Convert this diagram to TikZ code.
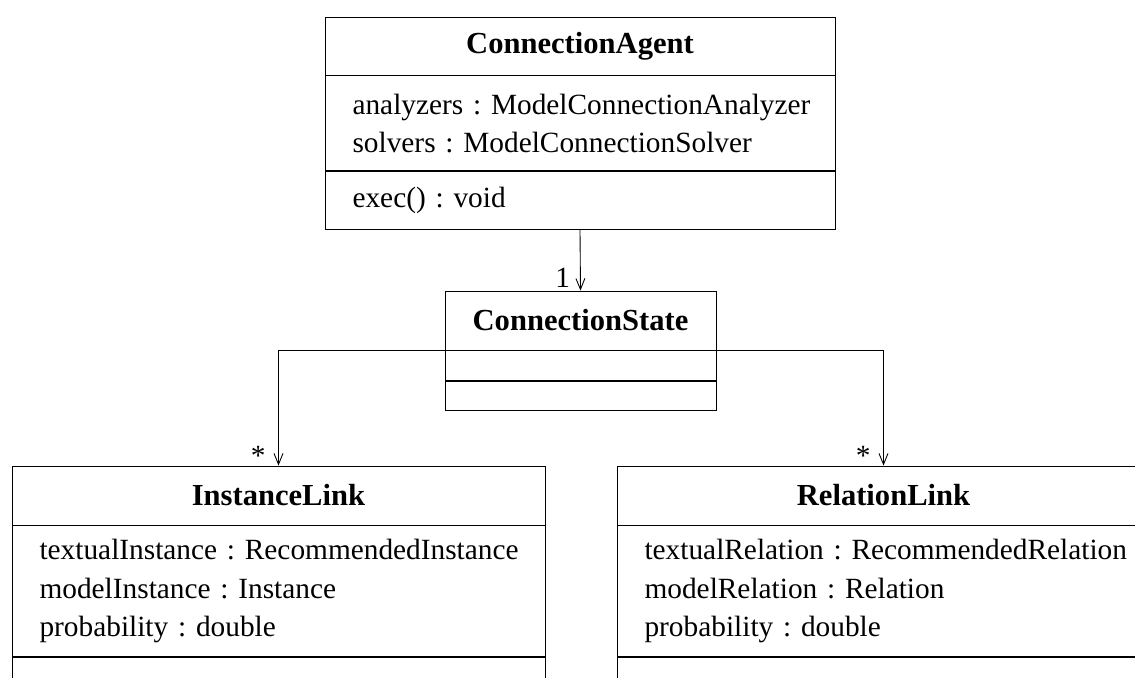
\documentclass[tikz,border=0pt]{standalone}
\usepackage{fontspec}
\setmainfont{Liberation Serif}
\usetikzlibrary{positioning,arrows.meta}
\frenchspacing

\begin{document}
\begin{tikzpicture}[x=0.02cm,y=-0.02cm,
  every node/.style={font=\fontsize{16.7pt}{21.9pt}\selectfont},
  clstitle/.style={draw,line width=0.5pt,inner sep=0pt,font=\fontsize{17.4pt}{21.9pt}\selectfont\bfseries},
  clsbody/.style={draw,line width=0.5pt,inner xsep=0.2cm,inner ysep=0pt,align=left,
    execute at begin node={\leftskip=0.35cm}},
  assoc/.style={line width=0.5pt,-{Straight Barb[length=2.2mm,width=1.8mm]}},
  mult/.style={inner sep=0pt,anchor=base east}]

\clip (0,0) rectangle (1135,678);

% agent
\node[clstitle,minimum width=10.2cm,minimum height=1.16cm] (agent) at (580,46) {ConnectionAgent};
\node[clsbody,text width=9.8cm,minimum height=1.9cm,below=0pt of agent] (agentattr)
  {analyzers : ModelConnectionAnalyzer\\solvers : ModelConnectionSolver};
\node[clsbody,text width=9.8cm,minimum height=1.16cm,below=0pt of agentattr] (agentops) {exec() : void};

% state
\node[clstitle,minimum width=5.42cm,minimum height=1.18cm] (state) at (580.5,320.5) {ConnectionState};
\node[clsbody,text width=5.02cm,minimum height=0.6cm,below=0pt of state] (stateattr) {};
\node[clsbody,text width=5.02cm,minimum height=0.58cm,below=0pt of stateattr] (stateops) {};

% left
\node[clstitle,minimum width=10.66cm,minimum height=1.18cm] (ilink) at (278.5,495.5) {InstanceLink};
\node[clsbody,text width=10.26cm,minimum height=2.62cm,below=0pt of ilink] (ilinkattr)
  {textualInstance : RecommendedInstance\\modelInstance : Instance\\probability : double};
\node[clsbody,text width=10.26cm,minimum height=1.16cm,below=0pt of ilinkattr] (ilinkops) {};

% right
\node[clstitle,minimum width=10.66cm,minimum height=1.18cm] (rlink) at (883.5,495.5) {RelationLink};
\node[clsbody,text width=10.26cm,minimum height=2.62cm,below=0pt of rlink] (rlinkattr)
  {textualRelation : RecommendedRelation\\modelRelation : Relation\\probability : double};
\node[clsbody,text width=10.26cm,minimum height=1.16cm,below=0pt of rlinkattr] (rlinkops) {};

\draw[assoc] (agentops.south) -- (state.north) node[mult,at end,xshift=-0.2cm,yshift=0.06cm] {1};
\draw[assoc] (state.south west) -| (ilink.north) node[mult,at end,xshift=-0.25cm] {*};
\draw[assoc] (state.south east) -| (rlink.north) node[mult,at end,xshift=-0.25cm] {*};
\end{tikzpicture}
\end{document}
